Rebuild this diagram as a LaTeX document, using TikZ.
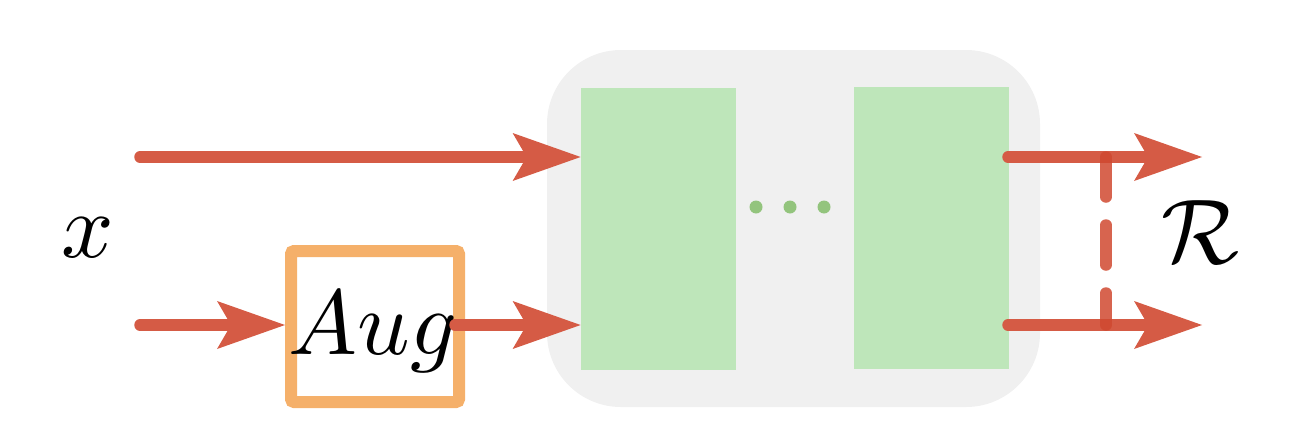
\documentclass[tikz,border=0pt]{standalone}
\usepackage{graphicx}
\usetikzlibrary{arrows.meta,calc}
\definecolor{redarr}{RGB}{213,91,69}
\definecolor{reddash}{RGB}{208,73,48}
\definecolor{augorange}{RGB}{245,176,106}
\definecolor{blockgreen}{RGB}{190,230,186}
\definecolor{dotgreen}{RGB}{147,196,125}
\definecolor{bggray}{RGB}{240,240,240}
\tikzset{
  arr/.style={draw=redarr, line width=5.75pt, line cap=round,
    -{Stealth[length=34pt, width=24pt, inset=7pt, line width=0pt]}},
  dashline/.style={draw=reddash, opacity=0.85, line width=5.75pt, line cap=round,
    dash pattern=on 20pt off 14pt},
  block/.style={fill=blockgreen, draw=none, inner sep=0pt,
    minimum width=77.5pt, minimum height=141pt},
  augbox/.style={draw=augorange, line width=6pt, rounded corners=1.5pt,
    minimum width=84pt, minimum height=75.5pt, inner sep=0pt, fill=white},
  bigtxt/.style={inner sep=0pt},
  dotn/.style={circle, fill=dotgreen, draw=none, inner sep=0pt, minimum size=6.5pt},
}
\begin{document}
\begin{tikzpicture}[x=0.5pt,y=-0.5pt]
\useasboundingbox (0,0) rectangle (1299,439);
% background panel
\node[fill=bggray, rounded corners=37pt, inner sep=0pt,
  minimum width=246.5pt, minimum height=178.5pt] (bg) at (793.5,228.5) {};
% blocks
\node[block] (b1) at (658.5,229) {};
\node[block] (b2) at (931,228) {};
\node[dotn] (d1) at (756,207) {};
\node[dotn] (d2) at (790,207) {};
\node[dotn] (d3) at (824,207) {};
% aug box
\node[augbox] (aug) at (375,326.5) {};
\node[bigtxt] (augt) at (373,332) {\scalebox{4.6}{$Aug$}};
% labels
\node[bigtxt] (xl) at (88,238) {\scalebox{4.6}{$x$}};
\node[bigtxt] (rl) at (1200,232) {\scalebox{4.6}{$\mathcal{R}$}};
% coordinates
\coordinate (s1) at (140,157);
\coordinate (s2) at (140,325);
\coordinate (o1) at (1008,157);
\coordinate (o2) at (1008,325);
\coordinate (e1) at (1202,157);
\coordinate (e2) at (1202,325);
\coordinate (q1) at (1106,157);
\coordinate (q2) at (1106,325);
% arrows
\draw[arr] (s1) -- (s1 -| b1.west);
\draw[arr] (s2) -- (aug.west |- s2);
\draw[arr] ([xshift=-5pt]aug.east |- s2) -- (b1.west |- s2);
\draw[arr] (o1) -- (e1);
\draw[arr] (o2) -- (e2);
\draw[dashline] (q1) -- (q2);
\end{tikzpicture}
\end{document}
